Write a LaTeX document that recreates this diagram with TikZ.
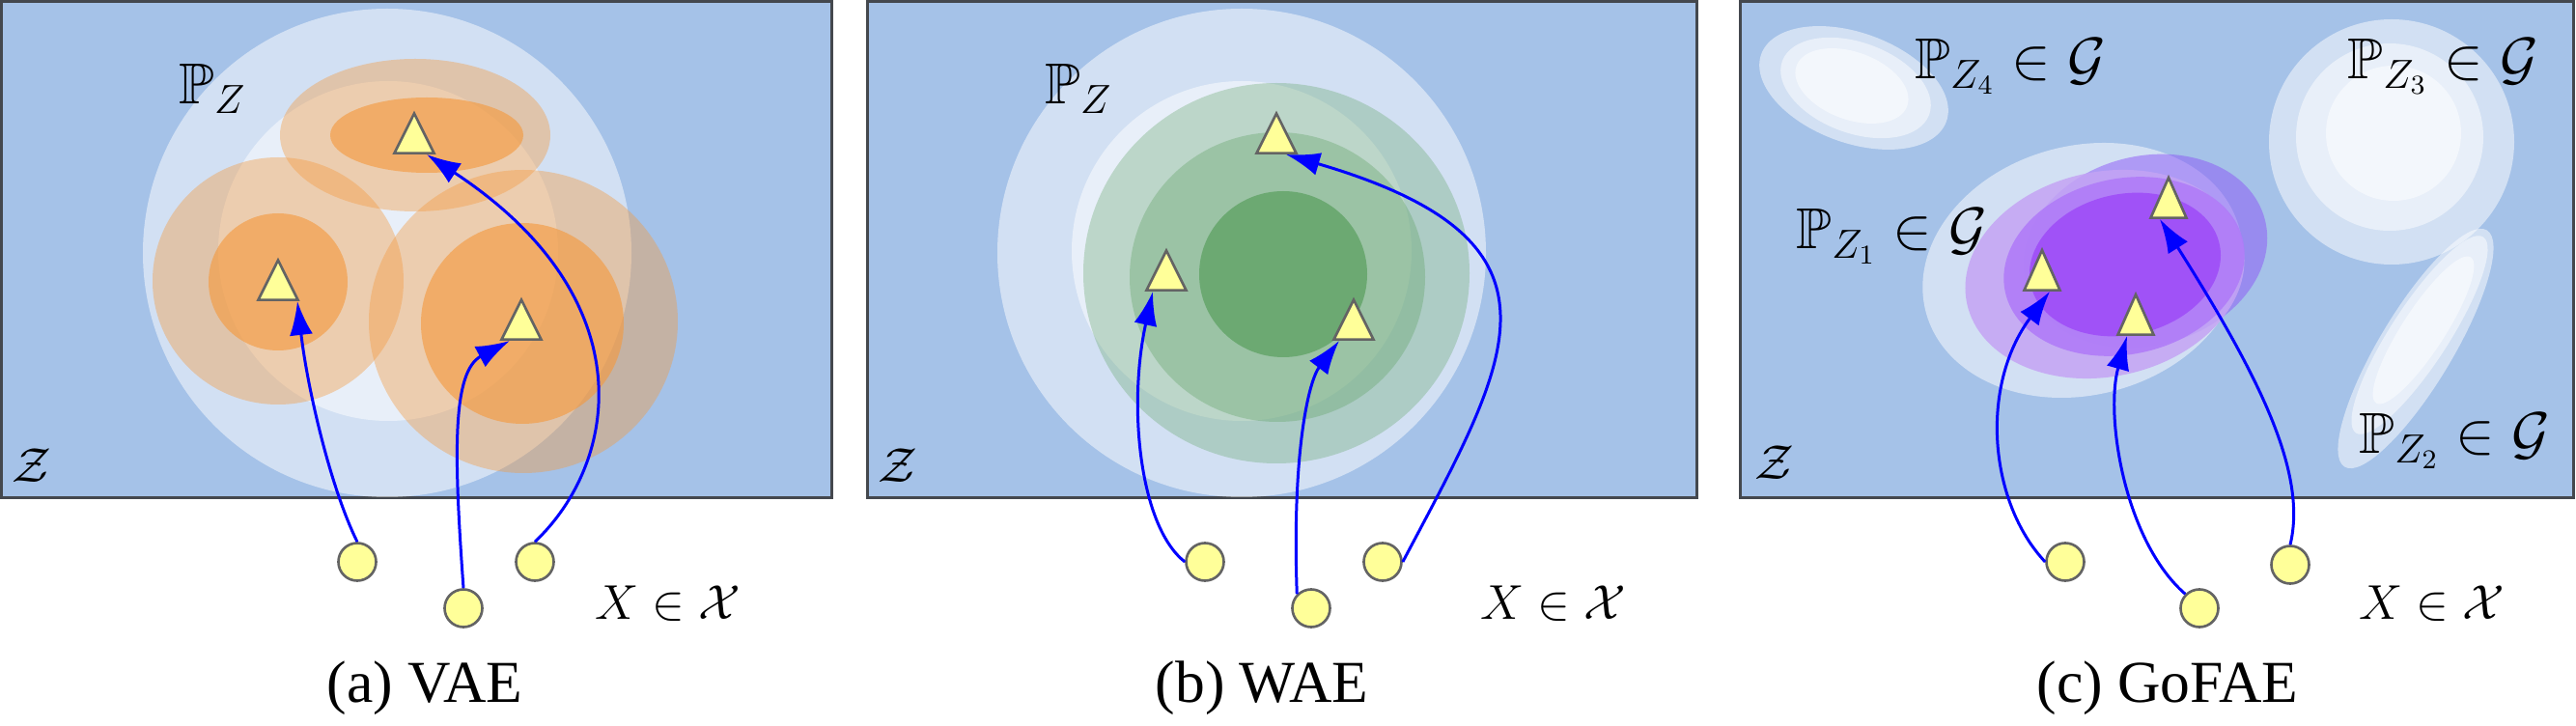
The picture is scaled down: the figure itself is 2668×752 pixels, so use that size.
\documentclass[tikz,border=0pt]{standalone}
\usepackage{amssymb}
\usepackage{fontspec}
\newfontfamily\capfont{Liberation Serif}
\usetikzlibrary{calc}
\usetikzlibrary{shapes.geometric}
\usetikzlibrary{arrows.meta}

\definecolor{zspace}{RGB}{165,194,232}
\definecolor{boxline}{RGB}{68,72,78}
\definecolor{vaeorange}{RGB}{244,154,64}
\definecolor{waegreen}{RGB}{106,168,112}
\definecolor{bluelilac}{RGB}{140,86,247}
\definecolor{lilac}{RGB}{196,164,244}
\definecolor{violet}{RGB}{176,124,248}
\definecolor{deepviolet}{RGB}{160,80,248}
\definecolor{pointfill}{RGB}{255,255,153}
\definecolor{pointline}{RGB}{100,100,100}

\tikzset{
  zbox/.style={fill=zspace, draw=boxline, line width=0.95pt},
  haze/.style={fill=white, fill opacity=0.5},
  sample/.style={circle, draw=pointline, fill=pointfill, line width=0.75pt,
    minimum size=0.39cm, inner sep=0pt},
  code/.style={isosceles triangle, isosceles triangle apex angle=53,
    shape border rotate=90, draw=pointline, fill=pointfill, line width=0.75pt,
    inner sep=0pt, minimum size=0.41cm, anchor=south},
  map/.style={blue, line width=0.85pt, -{Latex[length=0.35cm,width=0.24cm]}},
  big/.style={inner sep=0pt, anchor=base west, font=\fontsize{17}{20}\selectfont},
  small/.style={inner sep=0pt, font=\fontsize{14.2}{17}\selectfont},
  caption/.style={inner sep=0pt, anchor=base, font=\capfont\fontsize{17.5}{21}\selectfont}
}

\begin{document}
\begin{tikzpicture}[x=0.01cm, y=-0.01cm]
  \useasboundingbox (0,0) rectangle (2668,752);

  % (a) VAE
  \draw [zbox] (1.5,1.5) rectangle (861.5,515.5);
  \fill [haze] (401,262) circle [radius=253];
  \fill [haze] (402,260) circle [radius=176];
  \fill [vaeorange, fill opacity=0.4] (430,140) ellipse [x radius=140, y radius=79];
  \fill [vaeorange, fill opacity=0.4] (288,291) ellipse [x radius=130, y radius=128];
  \fill [vaeorange, fill opacity=0.4] (542,333) ellipse [x radius=160, y radius=157];
  \fill [vaeorange, fill opacity=0.64] (442,140) ellipse [x radius=100, y radius=39];
  \fill [vaeorange, fill opacity=0.64] (288,292) ellipse [x radius=72, y radius=71];
  \fill [vaeorange, fill opacity=0.64] (541,335) ellipse [x radius=105, y radius=104];

  \node [code] (ta1) at (288,312) {};
  \node [code] (ta2) at (429,160) {};
  \node [code] (ta3) at (540,353) {};
  \node [sample] (xa1) at (370,582) {};
  \node [sample] (xa2) at (480,630) {};
  \node [sample] (xa3) at (554,582) {};

  \draw [map] (xa1.north) .. controls (342,505) and (318,400) .. ($ (ta1.south)+(20,0) $);
  \draw [map] (xa2.north) .. controls (470,470) and (468,385) .. ($ (ta3.south)+(-12,0) $);
  \draw [map] (xa3.north) .. controls (640,480) and (670,310) .. ($ (ta2.south)+(13,0) $);

  \node [big] (pza) at (185,108) {$\mathbb{P}_Z$};
  \node [small, anchor=base west] (za) at (12,500) {$\mathcal{Z}$};
  \node [small, anchor=base] (xsa) at (692,642) {$X\in\mathcal{X}$};
  \node [caption] (capa) at (440,728) {(a) VAE};

  % (b) WAE
  \draw [zbox] (898.5,1.5) rectangle (1757.5,515.5);
  \fill [haze] (1286,262) circle [radius=253];
  \fill [haze] (1286,260) circle [radius=176];
  \fill [waegreen, fill opacity=0.35] (1322,283) ellipse [x radius=200, y radius=197];
  \fill [waegreen, fill opacity=0.4] (1323,287) ellipse [x radius=153, y radius=150];
  \fill [waegreen, fill opacity=0.95] (1329,284) ellipse [x radius=87, y radius=86];

  \node [code] (tb1) at (1208,302) {};
  \node [code] (tb2) at (1322,160) {};
  \node [code] (tb3) at (1402,353) {};
  \node [sample] (xb1) at (1248,582) {};
  \node [sample] (xb2) at (1358,630) {};
  \node [sample] (xb3) at (1432,582) {};

  \draw [map] (xb1.west) .. controls (1180,545) and (1168,420) .. ($ (tb1.south)+(-14,0) $);
  \draw [map] (xb2.north west) .. controls (1338,470) and (1355,395) .. ($ (tb3.south)+(-15,0) $);
  \draw [map] (xb3.east) .. controls (1565,370) and (1640,250) .. ($ (tb2.south)+(10,0) $);

  \node [big] (pzb) at (1082,108) {$\mathbb{P}_Z$};
  \node [small, anchor=base west] (zb) at (909,500) {$\mathcal{Z}$};
  \node [small, anchor=base] (xsb) at (1609,642) {$X\in\mathcal{X}$};
  \node [caption] (capb) at (1307,728) {(b) WAE};

  % (c) GoFAE
  \draw [zbox] (1802.5,1.5) rectangle (2665.5,515.5);
  \foreach \a/\b/\dx/\dy in {102/57/0/0, 81/47/2/0, 61/35/-2/-2}
    \fill [haze] ($ (1920,91)+(\dx,\dy) $) ellipse [x radius=\a, y radius=\b, rotate=-20];
  \fill [haze] (2477,147) circle [radius=127];
  \fill [haze] (2475,142) circle [radius=97];
  \fill [haze] (2479,138) circle [radius=70];
  \fill [haze] (2502,361) ellipse [x radius=143, y radius=38, rotate=59];
  \fill [haze] (2506,347) ellipse [x radius=121, y radius=30, rotate=57];
  \fill [haze] (2510,342) ellipse [x radius=90, y radius=22, rotate=57];
  \fill [haze] (2157,280) ellipse [x radius=168, y radius=129, rotate=15];
  \fill [bluelilac, fill opacity=0.5] (2222,260) ellipse [x radius=128, y radius=98, rotate=15];
  \fill [lilac, fill opacity=0.85] (2180,284) ellipse [x radius=146, y radius=106, rotate=12];
  \fill [violet, fill opacity=0.9] (2200,276) ellipse [x radius=126, y radius=91, rotate=12];
  \fill [deepviolet, fill opacity=0.95] (2201,274) ellipse [x radius=100, y radius=73, rotate=12];

  \node [code, isosceles triangle apex angle=48, minimum size=0.37cm] (tc1) at (2115,302) {};
  \node [code, isosceles triangle apex angle=48, minimum size=0.37cm] (tc2) at (2212,348) {};
  \node [code, isosceles triangle apex angle=48, minimum size=0.37cm] (tc3) at (2246,227) {};
  \node [sample] (xc1) at (2139,582) {};
  \node [sample] (xc2) at (2278,630) {};
  \node [sample] (xc3) at (2372,585) {};

  \draw [map] (xc1.west) .. controls (2060,520) and (2050,400) .. ($ (tc1.south)+(8,0) $);
  \draw [map] (xc2.north west) .. controls (2200,560) and (2180,430) .. ($ (tc2.south)+(-9,0) $);
  \draw [map] (xc3.north) .. controls (2390,490) and (2340,390) .. ($ (tc3.south)+(-9,0) $);

  \node [big] (pz4) at (1983,82) {$\mathbb{P}_{Z_4}\in\mathcal{G}$};
  \node [big] (pz3) at (2431,82) {$\mathbb{P}_{Z_3}\in\mathcal{G}$};
  \node [big] (pz1) at (1860,258) {$\mathbb{P}_{Z_1}\in\mathcal{G}$};
  \node [big] (pz2) at (2443,470) {$\mathbb{P}_{Z_2}\in\mathcal{G}$};
  \node [small, anchor=base west] (zc) at (1817,497) {$\mathcal{Z}$};
  \node [small, anchor=base] (xsc) at (2519,642) {$X\in\mathcal{X}$};
  \node [caption] (capc) at (2245,728) {(c) GoFAE};
\end{tikzpicture}
\end{document}
